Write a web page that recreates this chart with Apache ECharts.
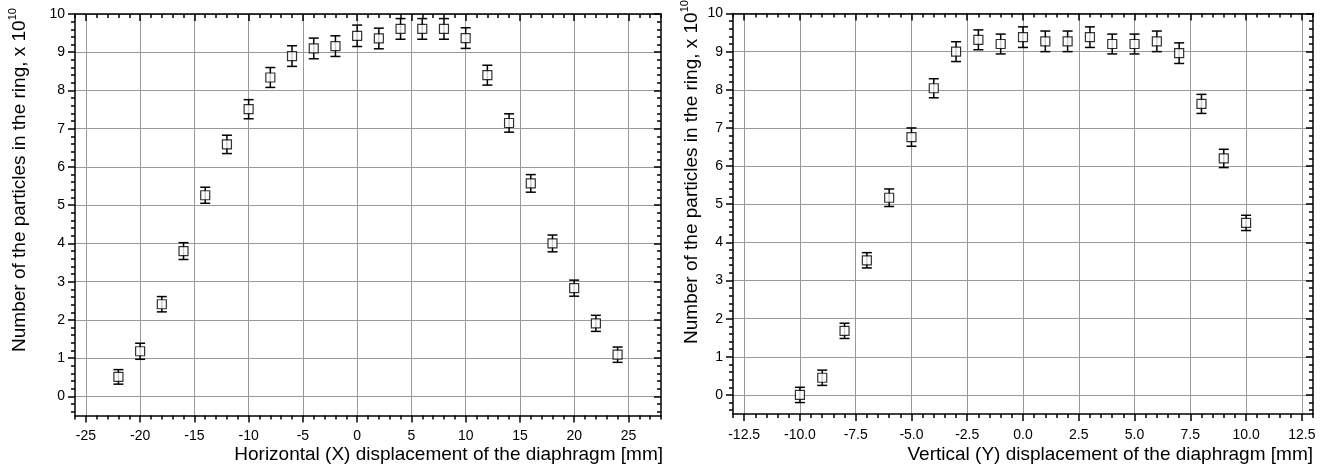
<!DOCTYPE html>
<html>
<head>
<meta charset="utf-8">
<script src="https://cdn.jsdelivr.net/npm/echarts@6/dist/echarts.min.js"></script>
<style>
  html, body { margin: 0; padding: 0; background: #fff; }
  #chart { width: 1336px; height: 473px; }
</style>
</head>
<body>
<div id="chart"></div>
<script>
// horizontal scan
const hPos = [-22, -20, -18, -16, -14, -12, -10, -8, -6, -4, -2, 0, 2, 4, 6, 8, 10, 12, 14, 16, 18, 20, 22, 24]
const hCount = [0.51, 1.18, 2.41, 3.8, 5.26, 6.59, 7.51, 8.34, 8.9, 9.1, 9.16, 9.43, 9.36, 9.61, 9.61, 9.61, 9.37, 8.4, 7.15, 5.57, 4.0, 2.83, 1.91, 1.09]
const hErr = [0.19, 0.21, 0.2, 0.22, 0.21, 0.24, 0.25, 0.26, 0.27, 0.27, 0.27, 0.28, 0.27, 0.27, 0.27, 0.27, 0.27, 0.26, 0.24, 0.23, 0.22, 0.21, 0.21, 0.2]

// vertical scan
const vPos = [-10, -9, -8, -7, -6, -5, -4, -3, -2, -1, 0, 1, 2, 3, 4, 5, 6, 7, 8, 9, 10]
const vCount = [0.0, 0.45, 1.68, 3.53, 5.17, 6.76, 8.04, 9.0, 9.31, 9.2, 9.38, 9.27, 9.27, 9.38, 9.2, 9.2, 9.27, 8.96, 7.63, 6.2, 4.51]
const vErr = [0.2, 0.2, 0.2, 0.2, 0.23, 0.24, 0.25, 0.26, 0.26, 0.26, 0.27, 0.27, 0.27, 0.27, 0.26, 0.26, 0.27, 0.27, 0.25, 0.24, 0.2]

// tick labels
const hTicks = [-25, -20, -15, -10, -5, 0, 5, 10, 15, 20, 25]
const vTicks = [-12.5, -10, -7.5, -5, -2.5, 0, 2.5, 5, 7.5, 10, 12.5]
const yTicks = [0, 1, 2, 3, 4, 5, 6, 7, 8, 9, 10]

const FONT = "'Liberation Sans', Arial, sans-serif"
const yMinor = []
for (let i = -2; i <= 50; i++) {
    if (i % 5 !== 0) yMinor.push(+(i * 0.2).toFixed(1))
}

const black = { color: '#000', width: 1.5 }

function majorX(grid, pos, min, max, ticks, fmt) {
    const bottom = pos === 'bottom'
    return {
        type: 'value', gridIndex: grid, position: pos, min, max,
        axisLine: { show: true, onZero: false, lineStyle: black },
        axisTick: { show: true, inside: !bottom, length: 7, customValues: ticks, lineStyle: black },
        axisLabel: {
            show: bottom, customValues: ticks, margin: 14,
            fontFamily: FONT, fontSize: 14, color: '#000', formatter: fmt
        },
        splitLine: { show: bottom, lineStyle: { color: '#999', width: 1 } }
    }
}
function minorX(grid, pos, min, max, step) {
    return {
        type: 'value', gridIndex: grid, position: pos, min, max, interval: step,
        axisLine: { show: false, onZero: false },
        axisTick: { show: true, inside: pos === 'top', length: 4, lineStyle: black },
        axisLabel: { show: false },
        splitLine: { show: false }
    }
}
function majorY(grid, pos) {
    const left = pos === 'left'
    return {
        type: 'value', gridIndex: grid, position: pos, min: -0.5, max: 10,
        axisLine: { show: true, onZero: false, lineStyle: black },
        axisTick: { show: true, inside: !left, length: 7, customValues: yTicks, lineStyle: black },
        axisLabel: {
            show: left, customValues: yTicks, margin: 10,
            fontFamily: FONT, fontSize: 14, color: '#000'
        },
        splitLine: { show: left, lineStyle: { color: '#999', width: 1 } }
    }
}
function minorY(grid, pos) {
    return {
        type: 'value', gridIndex: grid, position: pos, min: -0.5, max: 10,
        axisLine: { show: false, onZero: false },
        axisTick: { show: true, inside: pos === 'right', length: 4, customValues: yMinor, lineStyle: black },
        axisLabel: { show: false },
        splitLine: { show: false }
    }
}

function errorBars(xi, yi, pos, val, err) {
    return {
        type: 'custom', xAxisIndex: xi, yAxisIndex: yi, z: 3, silent: true,
        data: pos.map((p, i) => [p, val[i], err[i]]),
        renderItem(params, api) {
            const x = api.value(0), y = api.value(1), e = api.value(2)
            const hi = api.coord([x, y + e])
            const lo = api.coord([x, y - e])
            const w = 5
            const st = { stroke: '#000', lineWidth: 1.5 }
            return {
                type: 'group', children: [
                    { type: 'line', shape: { x1: hi[0], y1: hi[1], x2: lo[0], y2: lo[1] }, style: st },
                    { type: 'line', shape: { x1: hi[0] - w, y1: hi[1], x2: hi[0] + w, y2: hi[1] }, style: st },
                    { type: 'line', shape: { x1: lo[0] - w, y1: lo[1], x2: lo[0] + w, y2: lo[1] }, style: st }
                ]
            }
        }
    }
}
function squares(xi, yi, pos, val) {
    return {
        type: 'scatter', xAxisIndex: xi, yAxisIndex: yi, z: 4, silent: true,
        symbol: 'rect', symbolSize: 9,
        itemStyle: { color: '#fff', borderColor: '#000', borderWidth: 1.2 },
        data: pos.map((p, i) => [p, val[i]])
    }
}

function yName(x, y) {
    return {
        type: 'text', x, y, rotation: Math.PI / 2, z: 10,
        style: {
            text: '{a|Number of the particles in the ring, x 10}{s|10}',
            align: 'center', verticalAlign: 'middle',
            rich: {
                a: { fontFamily: FONT, fontSize: 19, lineHeight: 22, padding: [6, 0, 0, 0], verticalAlign: 'bottom', fill: '#000' },
                s: { fontFamily: FONT, fontSize: 11, lineHeight: 11, verticalAlign: 'top', fill: '#000' }
            }
        }
    }
}

const chart = echarts.init(document.getElementById('chart'))
chart.setOption({
    backgroundColor: '#fff',
    animation: false,
    grid: [
        { left: 75, right: 675, top: 14, bottom: 57.5 },
        { left: 733, right: 23, top: 13.5, bottom: 59 }
    ],
    xAxis: [
        majorX(0, 'bottom', -26, 28, hTicks, v => String(v)),
        minorX(0, 'bottom', -26, 28, 1),
        majorX(0, 'top', -26, 28, hTicks),
        minorX(0, 'top', -26, 28, 1),
        majorX(1, 'bottom', -13, 13, vTicks, v => Number(v).toFixed(1)),
        minorX(1, 'bottom', -13, 13, 0.5),
        majorX(1, 'top', -13, 13, vTicks),
        minorX(1, 'top', -13, 13, 0.5)
    ],
    yAxis: [
        majorY(0, 'left'),
        minorY(0, 'left'),
        majorY(0, 'right'),
        minorY(0, 'right'),
        majorY(1, 'left'),
        minorY(1, 'left'),
        majorY(1, 'right'),
        minorY(1, 'right')
    ],
    series: [
        errorBars(0, 0, hPos, hCount, hErr),
        squares(0, 0, hPos, hCount),
        errorBars(4, 4, vPos, vCount, vErr),
        squares(4, 4, vPos, vCount)
    ],
    graphic: [
        yName(18, 180),
        yName(690, 172),
        {
            type: 'text', x: 663, y: 455, z: 10,
            style: { text: 'Horizontal (X) displacement of the diaphragm [mm]', align: 'right', verticalAlign: 'middle', fontFamily: FONT, fontSize: 19, fill: '#000' }
        },
        {
            type: 'text', x: 1313, y: 455, z: 10,
            style: { text: 'Vertical (Y) displacement of the diaphragm [mm]', align: 'right', verticalAlign: 'middle', fontFamily: FONT, fontSize: 19, fill: '#000' }
        }
    ]
})
</script>
</body>
</html>
